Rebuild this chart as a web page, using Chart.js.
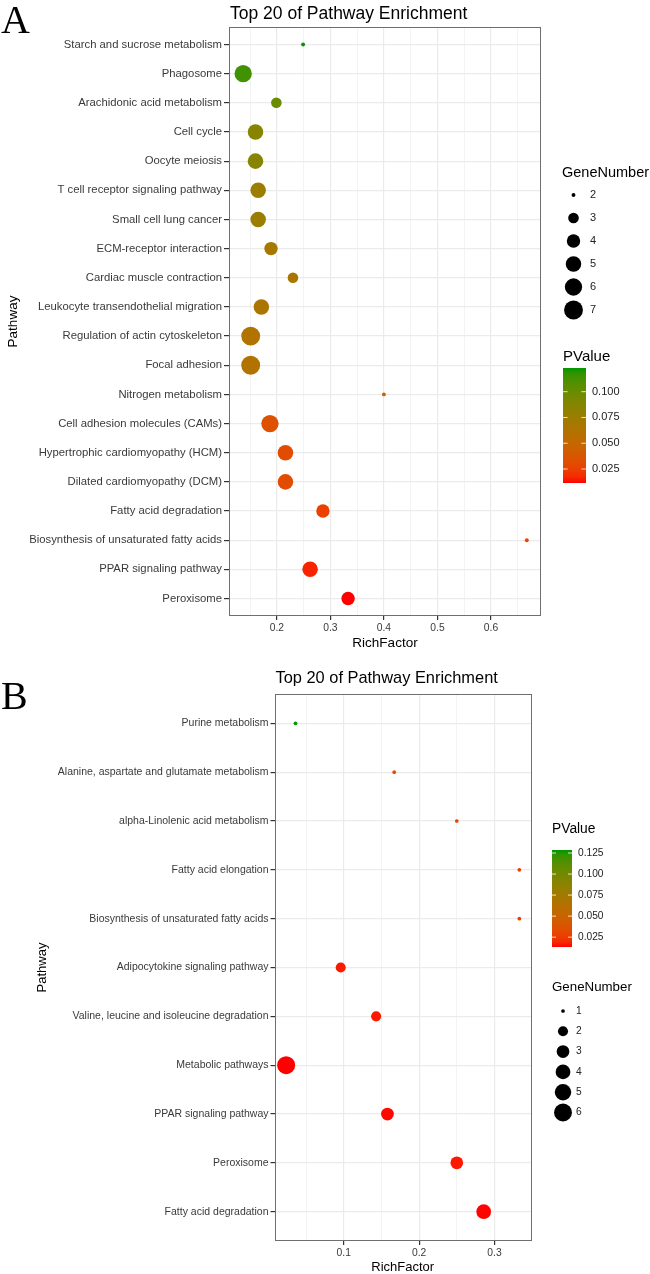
<!DOCTYPE html>
<html>
<head>
<meta charset="utf-8">
<script src="https://cdn.jsdelivr.net/npm/chart.js@4.4.1/dist/chart.umd.min.js"></script>
<style>
  html, body { margin: 0; padding: 0; background: #fff; }
  #wrap { position: relative; width: 650px; height: 1274px; }
  canvas { position: absolute; left: 0; }
</style>
</head>
<body>
<div id="wrap">
  <canvas id="chartA" width="650" height="650" style="top:0"></canvas>
  <canvas id="chartB" width="650" height="624" style="top:650px"></canvas>
</div>
<script>
// ===== Data: panel A =====
const pathwaysA = [
  'Starch and sucrose metabolism', 'Phagosome', 'Arachidonic acid metabolism', 'Cell cycle',
  'Oocyte meiosis', 'T cell receptor signaling pathway', 'Small cell lung cancer',
  'ECM-receptor interaction', 'Cardiac muscle contraction', 'Leukocyte transendothelial migration',
  'Regulation of actin cytoskeleton', 'Focal adhesion', 'Nitrogen metabolism',
  'Cell adhesion molecules (CAMs)', 'Hypertrophic cardiomyopathy (HCM)', 'Dilated cardiomyopathy (DCM)',
  'Fatty acid degradation', 'Biosynthesis of unsaturated fatty acids', 'PPAR signaling pathway', 'Peroxisome'
];
const richA = [0.249, 0.137, 0.199, 0.160, 0.160, 0.165, 0.165, 0.189, 0.230, 0.171,
               0.151, 0.151, 0.400, 0.187, 0.216, 0.216, 0.286, 0.667, 0.262, 0.333];
const geneA = [2, 6, 3, 5, 5, 5, 5, 4, 3, 5, 7, 7, 2, 6, 5, 5, 4, 2, 5, 4];
const pvalA = [0.123, 0.114, 0.100, 0.086, 0.086, 0.075, 0.075, 0.069, 0.067, 0.066,
               0.062, 0.062, 0.045, 0.034, 0.031, 0.031, 0.025, 0.027, 0.016, 0.0114];
const xMajorA = [0.2, 0.3, 0.4, 0.5, 0.6];
const xMinorA = [0.15, 0.25, 0.35, 0.45, 0.55, 0.65];
const geneLegendA = [2, 3, 4, 5, 6, 7];
const pLegendA = [0.025, 0.050, 0.075, 0.100];

// ===== Data: panel B =====
const pathwaysB = [
  'Purine metabolism', 'Alanine, aspartate and glutamate metabolism', 'alpha-Linolenic acid metabolism',
  'Fatty acid elongation', 'Biosynthesis of unsaturated fatty acids', 'Adipocytokine signaling pathway',
  'Valine, leucine and isoleucine degradation', 'Metabolic pathways', 'PPAR signaling pathway',
  'Peroxisome', 'Fatty acid degradation'
];
const richB = [0.036, 0.167, 0.250, 0.333, 0.333, 0.096, 0.143, 0.0236, 0.158, 0.250, 0.2857];
const geneB = [1, 1, 1, 1, 1, 2, 2, 6, 3, 3, 4];
const pvalB = [0.1286, 0.034, 0.027, 0.025, 0.025, 0.016, 0.016, 0.0133, 0.014, 0.016, 0.0135];
const xMajorB = [0.1, 0.2, 0.3];
const xMinorB = [0.05, 0.15, 0.25];
const geneLegendB = [1, 2, 3, 4, 5, 6];
const pLegendB = [0.025, 0.050, 0.075, 0.100, 0.125];

const LOW = '#ff0000', HIGH = '#009600';
const SANS = '"Liberation Sans", Arial, Helvetica, sans-serif';
const TEXT = '#3a3a3a';

// ===== Colour: Lab interpolation (like ggplot's gradient) =====
function hexToLab(hex) {
  const c = [1, 3, 5].map(i => parseInt(hex.substr(i, 2), 16) / 255)
    .map(v => v <= 0.04045 ? v / 12.92 : Math.pow((v + 0.055) / 1.055, 2.4));
  const X = (0.4124 * c[0] + 0.3576 * c[1] + 0.1805 * c[2]) / 0.95047;
  const Y = (0.2126 * c[0] + 0.7152 * c[1] + 0.0722 * c[2]);
  const Z = (0.0193 * c[0] + 0.1192 * c[1] + 0.9505 * c[2]) / 1.08883;
  const f = t => t > 0.008856 ? Math.cbrt(t) : 7.787 * t + 16 / 116;
  return [116 * f(Y) - 16, 500 * (f(X) - f(Y)), 200 * (f(Y) - f(Z))];
}
function labToRgb(L, a, b) {
  const fy = (L + 16) / 116, fx = fy + a / 500, fz = fy - b / 200;
  const g = t => t > 0.206897 ? t * t * t : (t - 16 / 116) / 7.787;
  const X = g(fx) * 0.95047, Y = g(fy), Z = g(fz) * 1.08883;
  const lin = [
    3.2406 * X - 1.5372 * Y - 0.4986 * Z,
    -0.9689 * X + 1.8758 * Y + 0.0415 * Z,
    0.0557 * X - 0.2040 * Y + 1.0570 * Z
  ];
  const out = lin.map(v => {
    v = v <= 0.0031308 ? 12.92 * v : 1.055 * Math.pow(v, 1 / 2.4) - 0.055;
    return Math.round(Math.min(1, Math.max(0, v)) * 255);
  });
  return `rgb(${out[0]}, ${out[1]}, ${out[2]})`;
}
const labLow = hexToLab(LOW), labHigh = hexToLab(HIGH);
function gradColor(t) {
  t = Math.min(1, Math.max(0, t));
  return labToRgb(...labLow.map((v, i) => v + (labHigh[i] - v) * t));
}

// ===== Panel builder =====
function makePanel(id, P) {
  const canvas = document.getElementById(id);
  const W = canvas.width, H = canvas.height;
  const n = P.labels.length;
  const rmin = Math.min(...P.rich), rmax = Math.max(...P.rich);
  const xmin = rmin - 0.05 * (rmax - rmin), xmax = rmax + 0.05 * (rmax - rmin);
  const gmin = Math.min(...P.gene), gmax = Math.max(...P.gene);
  const pmin = Math.min(...P.pval), pmax = Math.max(...P.pval);
  const radius = g => P.k / 2 * (1 + 5 * Math.sqrt((g - gmin) / (gmax - gmin)) + 0.3);
  const colorOf = p => gradColor((p - pmin) / (pmax - pmin));
  const isMajor = v => P.xMajor.some(m => Math.abs(m - v) < 1e-9);
  const xTicks = P.xMajor.concat(P.xMinor).sort((a, b) => a - b);
  const A = P.area;

  const decor = {
    id: 'decor',
    afterDraw(chart) {
      const c = chart.ctx, ca = chart.chartArea;
      c.save();
      // panel border
      c.strokeStyle = '#6f6f6f';
      c.lineWidth = 1;
      c.strokeRect(Math.round(ca.left) + 0.5, Math.round(ca.top) + 0.5,
                   Math.round(ca.right - ca.left) - 1, Math.round(ca.bottom - ca.top) - 1);
      // panel letter
      c.fillStyle = '#000';
      c.font = `${P.letterSize}px "Liberation Serif", "Times New Roman", serif`;
      c.textAlign = 'left'; c.textBaseline = 'alphabetic';
      c.fillText(P.letter, P.letterX, P.letterY);
      // title
      c.font = `${P.titleSize}px ${SANS}`;
      c.fillText('Top 20 of Pathway Enrichment', ca.left + 1, P.titleY);
      // axis titles
      c.font = `${P.axisTitleSize}px ${SANS}`;
      c.textAlign = 'center'; c.textBaseline = 'middle';
      c.fillText('RichFactor', (ca.left + ca.right) / 2, P.xTitleY);
      c.save();
      c.translate(P.yTitleX, (ca.top + ca.bottom) / 2);
      c.rotate(-Math.PI / 2);
      c.fillText('Pathway', 0, 0);
      c.restore();

      // GeneNumber legend
      const G = P.geneLeg;
      c.textAlign = 'left';
      c.font = `${P.legTitleSize}px ${SANS}`;
      c.fillText('GeneNumber', G.x, G.titleY);
      c.font = `${P.legLabelSize}px ${SANS}`;
      P.geneLegend.forEach((g, i) => {
        const y = G.y0 + i * G.step;
        c.fillStyle = '#000';
        c.beginPath();
        c.arc(G.cx, y, radius(g), 0, Math.PI * 2);
        c.fill();
        c.fillStyle = '#222';
        c.fillText(String(g), G.lx, y);
      });

      // PValue colour bar
      const B = P.pLeg;
      c.fillStyle = '#000';
      c.font = `${P.legTitleSize + 0.5}px ${SANS}`;
      c.fillText('PValue', B.x, B.titleY);
      const grad = c.createLinearGradient(0, B.bottom, 0, B.top);
      for (let s = 0; s <= 20; s++) grad.addColorStop(s / 20, gradColor(s / 20));
      c.fillStyle = grad;
      c.fillRect(B.x, B.top, B.w, B.bottom - B.top);
      c.font = `${P.legLabelSize}px ${SANS}`;
      P.pLegend.forEach(v => {
        const y = B.bottom - (v - pmin) / (pmax - pmin) * (B.bottom - B.top);
        c.strokeStyle = 'rgba(255,255,255,0.8)';
        c.lineWidth = 1;
        c.beginPath();
        c.moveTo(B.x, y); c.lineTo(B.x + B.w * 0.2, y);
        c.moveTo(B.x + B.w * 0.8, y); c.lineTo(B.x + B.w, y);
        c.stroke();
        c.fillStyle = '#222';
        c.fillText(v.toFixed(3), B.x + B.w + 6, y);
      });
      c.restore();
    }
  };

  return new Chart(canvas.getContext('2d'), {
    type: 'bubble',
    data: {
      datasets: [{
        data: P.labels.map((l, i) => ({ x: P.rich[i], y: i, r: radius(P.gene[i]) })),
        backgroundColor: P.pval.map(colorOf),
        borderWidth: 0,
        hoverRadius: 0
      }]
    },
    options: {
      responsive: false,
      animation: false,
      events: [],
      layout: { padding: { top: A.top, right: W - A.right, bottom: 0, left: 0 } },
      plugins: { legend: { display: false }, tooltip: { enabled: false } },
      scales: {
        x: {
          type: 'linear', min: xmin, max: xmax,
          afterBuildTicks: s => { s.ticks = xTicks.map(v => ({ value: v })); },
          afterFit: s => { s.height = H - A.bottom; },
          ticks: {
            autoSkip: false, maxRotation: 0, padding: 2, color: TEXT,
            font: { family: SANS, size: P.xLabelSize },
            callback: v => isMajor(v) ? String(v) : ''
          },
          grid: {
            color: c => isMajor(c.tick.value) ? '#ebebeb' : '#f3f3f3',
            lineWidth: c => isMajor(c.tick.value) ? 1.2 : 1,
            tickLength: 4,
            tickColor: c => isMajor(c.tick.value) ? '#333' : 'rgba(0,0,0,0)'
          },
          border: { display: false }
        },
        y: {
          type: 'linear', reverse: true, min: -0.6, max: n - 1 + 0.6,
          afterBuildTicks: s => { s.ticks = P.labels.map((l, i) => ({ value: i })); },
          afterFit: s => { s.width = A.left; },
          ticks: {
            autoSkip: false, padding: 2, color: TEXT,
            font: { family: SANS, size: P.yLabelSize },
            callback: v => P.labels[v]
          },
          grid: { color: '#ebebeb', lineWidth: 1.2, tickLength: P.yTick, tickColor: '#333' },
          border: { display: false }
        }
      }
    },
    plugins: [decor]
  });
}

// ===== Draw both panels =====
makePanel('chartA', {
  labels: pathwaysA, rich: richA, gene: geneA, pval: pvalA,
  xMajor: xMajorA, xMinor: xMinorA, geneLegend: geneLegendA, pLegend: pLegendA,
  k: 3.0, area: { left: 229, right: 541, top: 27, bottom: 616 },
  letter: 'A', letterX: 1, letterY: 33, letterSize: 40,
  titleY: 19, titleSize: 17.5, axisTitleSize: 13.5, xTitleY: 643, yTitleX: 13,
  yLabelSize: 11.3, xLabelSize: 10.3, yTick: 5, legTitleSize: 14.5, legLabelSize: 11,
  geneLeg: { x: 562, titleY: 173, y0: 195, step: 23, cx: 573.5, lx: 590 },
  pLeg: { x: 563, titleY: 357, top: 368, bottom: 483, w: 23 }
});

makePanel('chartB', {
  labels: pathwaysB, rich: richB, gene: geneB, pval: pvalB,
  xMajor: xMajorB, xMinor: xMinorB, geneLegend: geneLegendB, pLegend: pLegendB,
  k: 2.85, area: { left: 274.5, right: 531, top: 44, bottom: 591 },
  letter: 'B', letterX: 1, letterY: 59, letterSize: 40,
  titleY: 33, titleSize: 16.4, axisTitleSize: 13, xTitleY: 617, yTitleX: 42,
  yLabelSize: 10.5, xLabelSize: 10.3, yTick: 4, legTitleSize: 13.3, legLabelSize: 10.2,
  geneLeg: { x: 552, titleY: 337, y0: 361, step: 20.3, cx: 563, lx: 576 },
  pLeg: { x: 552, titleY: 179, top: 200, bottom: 297, w: 20 }
});
</script>
</body>
</html>
